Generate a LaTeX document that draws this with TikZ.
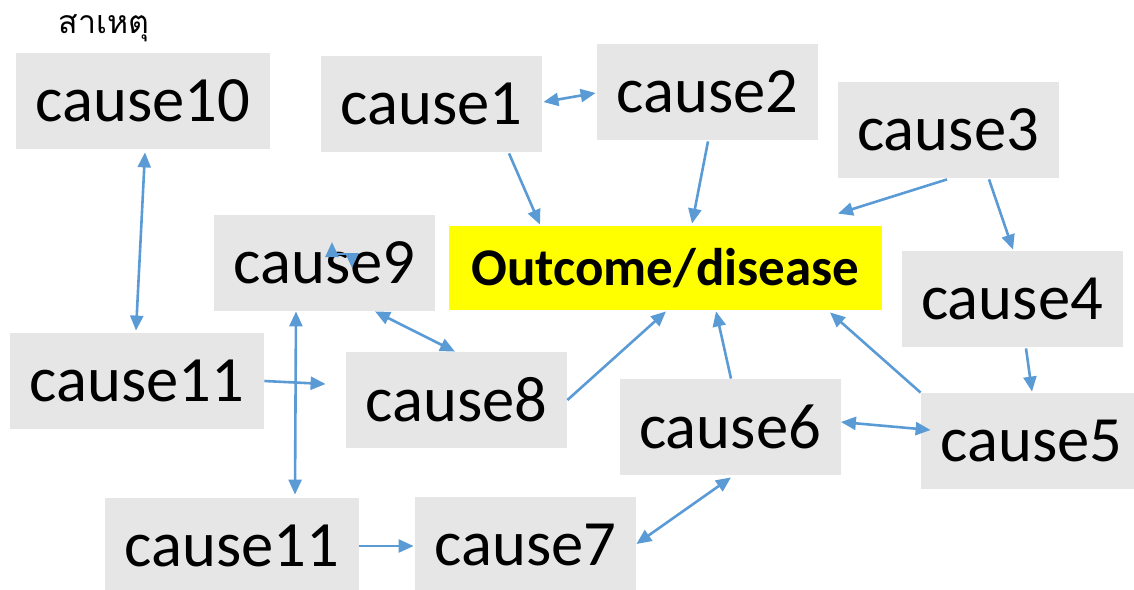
\documentclass[tikz,border=0pt]{standalone}
\usepackage{fontspec}
\setmainfont{Carlito}
\newfontfamily\thaifont[Script=Thai]{Loma}
\usepackage{xcolor}
\definecolor{boxgray}{RGB}{230,230,230}
\definecolor{outyellow}{RGB}{255,255,0}
\definecolor{linkblue}{RGB}{91,155,213}
\usepackage{tikz}
\usetikzlibrary{calc}
\usetikzlibrary{arrows.meta}
\newcommand{\widthcause}{110.5pt}
\newcommand{\widthwide}{127pt}
\newcommand{\heightcause}{48pt}
\tikzset{
    common/.style={fill=boxgray, inner sep=0pt, minimum height=\heightcause, font=\fontsize{32.3}{38}\selectfont},
    cause/.style={common, minimum width=\widthcause},
    widecause/.style={common, minimum width=\widthwide},
    outcome/.style={fill=outyellow, inner sep=0pt, minimum width=216.5pt, minimum height=42pt, font=\fontsize{26.5}{32}\selectfont\bfseries},
    title/.style={font=\thaifont\fontsize{16}{19}\selectfont, inner sep=0pt},
    tip/.tip={Triangle[length=7.5pt, width=6.5pt]},
    link/.style={draw=linkblue, line width=1.3pt, -tip},
    twoway/.style={link, tip-tip}
}

\begin{document}
\begin{tikzpicture}[x=0.5pt, y=-0.5pt]
      \useasboundingbox (0,0) rectangle (1134,589);
      \clip (0,0) rectangle (1134,589);

      \node[title] (label) at (104,28) {สาเหตุ};
      \node[widecause] (cause10) at (143,101) {cause10};
      \node[cause] (cause1) at (431.5,104) {cause1};
      \node[cause] (cause2) at (707.5,92) {cause2};
      \node[cause] (cause3) at (948,130) {cause3};
      \node[outcome] (outcome) at (665.5,268) {Outcome/disease};
      \node[cause] (cause9) at (324.5,263) {cause9};
      \node[cause] (cause4) at (1012,299) {cause4};
      \node[widecause] (cause11a) at (137,381) {cause11};
      \node[cause] (cause8) at (456.5,400) {cause8};
      \node[cause] (cause6) at (730,427) {cause6};
      \node[cause] (cause5) at (1031.5,441) {cause5};
      \node[widecause] (cause11b) at (232,546) {cause11};
      \node[cause] (cause7) at (525.5,545) {cause7};

      \draw[twoway] ($(cause10.south)+(2,3)$) -- ($(cause11a.north)+(-1,-2)$);
      \draw[twoway] ($(cause1.east)+(1,-2)$) -- ($(cause2.west)+(-1,1)$);
      \draw[link] ($(cause1.south)+(77.5,1)$) -- ($(outcome.north)+(-125.5,-1)$);
      \draw[link] ($(cause2.south)+(0.5,1)$) -- ($(outcome.north)+(26.5,-2)$);
      \draw[link] ($(cause3.south)+(-1,1)$) -- ($(outcome.north)+(172.5,-12)$);
      \draw[link] ($(cause3.south)+(41,1)$) -- ($(cause4.north)+(1,-1)$);
      \draw[link] ($(cause4.south)+(14,1)$) -- ($(cause5.north)+(0.5,-1)$);
      \draw[link] (cause5.north west) -- ($(outcome.south)+(164.5,2)$);
      \draw[link] ($(cause6.north)+(1,0)$) -- ($(outcome.south)+(50.5,1)$);
      \draw[twoway] ($(cause6.east)+(0,-5)$) -- ($(cause5.west)+(10,-11)$);
      \draw[link] (cause8.east) -- ($(outcome.south)+(0.5,1)$);
      \draw[twoway] ($(cause9.south)+(50.5,0)$) -- ($(cause8.north)+(-1.5,0)$);
      \draw[twoway] ($(cause9.south)+(-28.5,0)$) -- ($(cause11b.north)+(63,-3)$);
      \draw[link] (cause11a.east) -- ($(cause8.west)+(-20,-16)$);
      \draw[link] (cause11b.east) -- ($(cause7.west)+(-1,1)$);
      \draw[twoway] ($(cause7.east)+(0,-1)$) -- ($(cause6.south)+(1,2)$);
      \draw[twoway] ($(cause9.center)+(7.5,-21)$) -- ++(0,12) -| ($(cause9.center)+(27.5,5)$);
\end{tikzpicture}
\end{document}
